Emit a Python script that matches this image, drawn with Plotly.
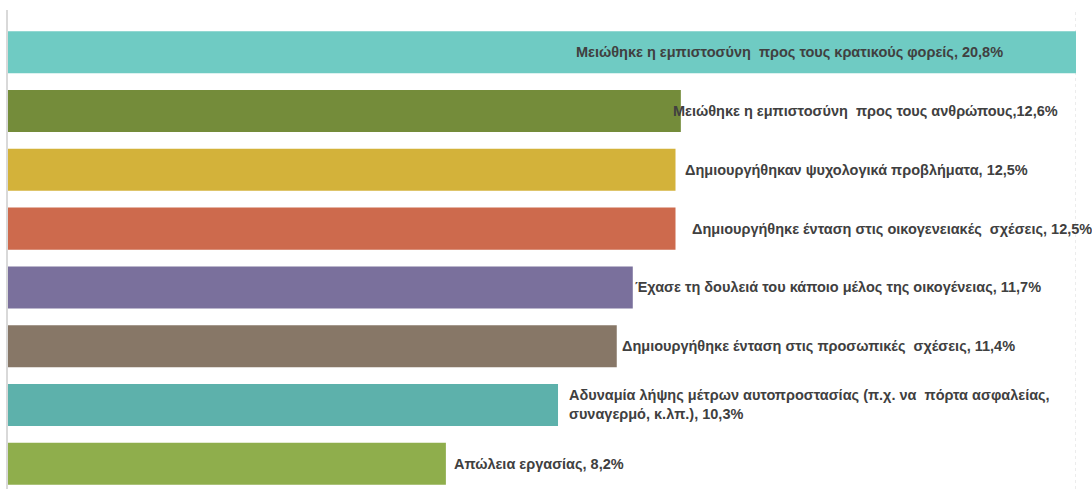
import plotly.graph_objects as go

categories = [
    "Μειώθηκε η εμπιστοσύνη  προς τους κρατικούς φορείς",
    "Μειώθηκε η εμπιστοσύνη  προς τους ανθρώπους",
    "Δημιουργήθηκαν ψυχολογικά προβλήματα",
    "Δημιουργήθηκε ένταση στις οικογενειακές  σχέσεις",
    "Έχασε τη δουλειά του κάποιο μέλος της οικογένειας",
    "Δημιουργήθηκε ένταση στις προσωπικές  σχέσεις",
    "Αδυναμία λήψης μέτρων αυτοπροστασίας (π.χ. να  πόρτα ασφαλείας,<br>συναγερμό, κ.λπ.)",
    "Απώλεια εργασίας",
]
values = [20.8, 12.6, 12.5, 12.5, 11.7, 11.4, 10.3, 8.2]
value_labels = ["20,8%", "12,6%", "12,5%", "12,5%", "11,7%", "11,4%", "10,3%", "8,2%"]
separators = [", ", ",", ", ", ", ", ", ", ", ", ", ", ", "]

colors = ["#6FCBC3", "#748C3A", "#D3B23A", "#CD6A4D", "#7A709C", "#877767", "#5DB1AB", "#8FAE4C"]
label_anchor = ["right", "left", "left", "left", "left", "left", "left", "left"]
label_shift = [-71, -10, 7, 14, 0, 3, 9, 6]

x_max = 20.0

fig = go.Figure()
fig.add_trace(go.Bar(
    x=values,
    y=categories,
    orientation="h",
    marker=dict(color=colors, line=dict(width=0)),
    hoverinfo="x+y",
))

fig.add_vline(x=x_max, line=dict(color="#D9D9D9", width=1, dash="dot"), layer="below")

for cat, v, lab, sep, anc, sh in zip(categories, values, value_labels, separators, label_anchor, label_shift):
    fig.add_annotation(
        x=min(v, x_max), y=cat, xref="x", yref="y",
        text="<b>" + cat + sep + lab + "</b>",
        xanchor=anc, yanchor="middle", xshift=sh,
        showarrow=False, align="left",
        font=dict(family="Liberation Sans, Arial", size=14.5, color="#404040"),
    )

fig.update_layout(
    width=1092, height=489,
    margin=dict(l=8, r=16, t=10, b=0),
    paper_bgcolor="white", plot_bgcolor="white",
    showlegend=False,
    bargap=0.285,
    xaxis=dict(range=[0, x_max], showticklabels=False, ticks="", zeroline=False,
               showgrid=False, fixedrange=True),
    yaxis=dict(type="category", range=[7.43, -0.72], autorange=False,
               showticklabels=False, ticks="", showgrid=False, zeroline=False,
               showline=True, linecolor="#D9D9D9", linewidth=1.5, fixedrange=True),
)

fig.write_html("out.html", config={"displayModeBar": False},
               post_script="document.body.style.margin='0';document.body.style.overflow='hidden';")
